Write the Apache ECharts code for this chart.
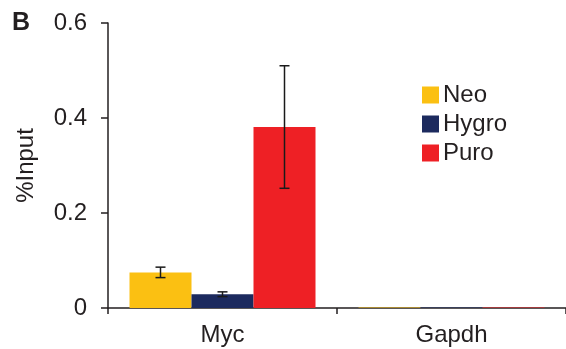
<!DOCTYPE html>
<html>
<head>
<meta charset="utf-8">
<script src="https://cdn.jsdelivr.net/npm/echarts@6/dist/echarts.min.js"></script>
<style>html,body{margin:0;padding:0;background:#fff}#c{width:566px;height:349px}</style>
</head>
<body>
<div id="c"></div>
<script>
const categories = ['Myc', 'Gapdh'];
const seriesNames = ['Neo', 'Hygro', 'Puro'];
const colors = ['#FBC012', '#1C2A5E', '#EE2025'];
const neoValues = [0.075, 0.0008];
const neoErrors = [0.011, 0];
const hygroValues = [0.029, 0.0008];
const hygroErrors = [0.005, 0];
const puroValues = [0.381, 0.0008];
const puroErrors = [0.129, 0];
const yTicks = [0, 0.2, 0.4, 0.6];

const values = [neoValues, hygroValues, puroValues];
const errors = [neoErrors, hygroErrors, puroErrors];
const font = 'Liberation Sans, Arial, Helvetica, sans-serif';

const chart = echarts.init(document.getElementById('c'), null, {renderer: 'canvas'});

const series = [];
seriesNames.forEach((name, i) => {
  series.push({
    name: name, type: 'bar', data: values[i], barWidth: 62, barGap: '0%',
    itemStyle: {color: colors[i]}, silent: true, animation: false
  });
});
seriesNames.forEach((name, i) => {
  series.push({
    type: 'custom', name: name + ' err', animation: false, silent: true,
    data: categories.map((c, k) => [k, values[i][k] - errors[i][k], values[i][k] + errors[i][k]]),
    renderItem: function (params, api) {
      if (errors[i][api.value(0)] === 0) return null;
      const lo = api.coord([api.value(0), api.value(1)]);
      const hi = api.coord([api.value(0), api.value(2)]);
      const bw = 62;
      const x = lo[0] + (i - 1) * bw;
      const cap = 5;
      const st = {stroke: '#1a1a1a', lineWidth: 1.5};
      return {type: 'group', children: [
        {type: 'line', shape: {x1: x, y1: hi[1], x2: x, y2: lo[1]}, style: st},
        {type: 'line', shape: {x1: x - cap, y1: hi[1], x2: x + cap, y2: hi[1]}, style: st},
        {type: 'line', shape: {x1: x - cap, y1: lo[1], x2: x + cap, y2: lo[1]}, style: st}
      ]};
    },
    z: 5
  });
});

chart.setOption({
  animation: false,
  backgroundColor: '#fff',
  grid: {left: 108, right: 0, top: 23, bottom: 41, containLabel: false},
  graphic: [{type: 'text', left: 12, top: 11, style: {text: 'B', font: 'bold 25px ' + font, fill: '#231f20'}}],
  legend: {
    data: seriesNames, orient: 'vertical', left: 417, top: 78,
    itemWidth: 17, itemHeight: 17, itemGap: 5, icon: 'rect',
    textStyle: {fontFamily: font, fontSize: 24, color: '#231f20', padding: [0,0,0,-1]},
    selectedMode: false
  },
  xAxis: {
    type: 'category', data: categories,
    axisLine: {lineStyle: {color: '#231f20', width: 1.5}},
    axisTick: {show: true, length: 6, lineStyle: {color: '#231f20', width: 1.5}},
    axisLabel: {fontFamily: font, fontSize: 24, color: '#231f20', margin: 15}
  },
  yAxis: {
    type: 'value', min: 0, max: 0.6, interval: 0.2,
    name: '%Input', nameLocation: 'middle', nameGap: 70, nameRotate: 90,
    nameTextStyle: {fontFamily: font, fontSize: 24, color: '#231f20'},
    splitLine: {show: false},
    axisLine: {show: true, lineStyle: {color: '#231f20', width: 1.5}},
    axisTick: {show: true, length: 7, lineStyle: {color: '#231f20', width: 1.5}},
    axisLabel: {fontFamily: font, fontSize: 24, color: '#231f20', margin: 21,
      formatter: v => { const t = yTicks.find(y => Math.abs(y - v) < 1e-9); return t === 0 ? '0' : String(t); }}
  },
  series: series
});
</script>
</body>
</html>
